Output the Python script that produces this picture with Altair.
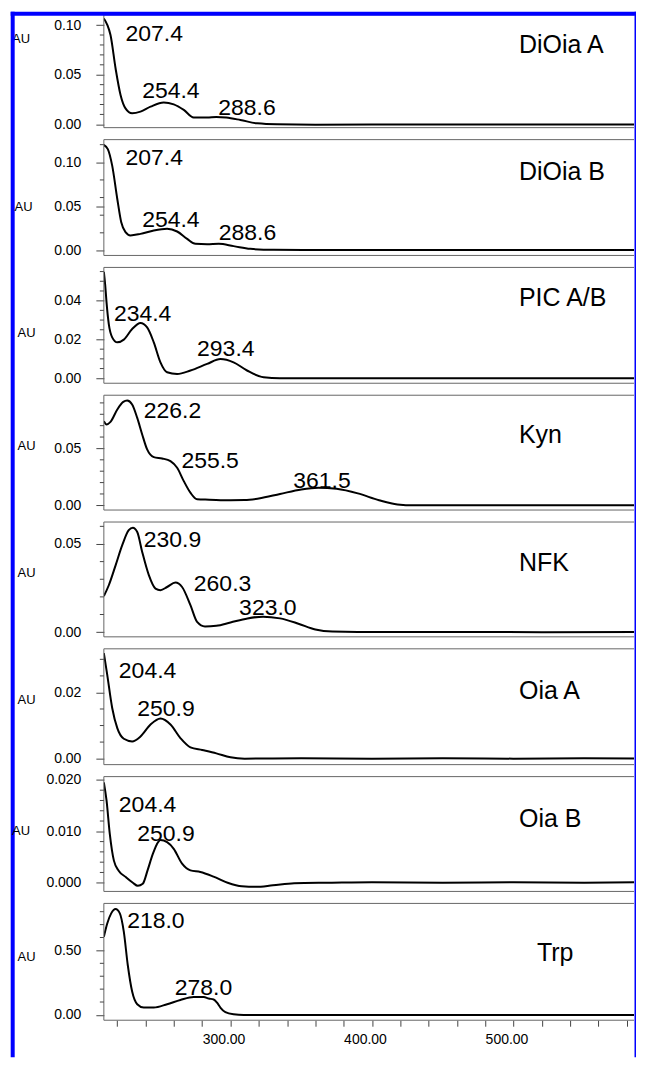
import altair as alt
import pandas as pd

# ---------------- data (wavelength nm, absorbance AU) -------------
dioia_a_nm = [210.5, 213.0, 215.2, 218.8, 222.3, 225.8, 230.5, 236.4, 243.5, 252.8, 259.9, 267.0,
              274.0, 283.5, 290.0, 297.0, 307.0, 318.8, 332.9, 360, 400, 450, 500, 550, 600]
dioia_a_au = [0.1066, 0.1000, 0.0900, 0.0563, 0.0296, 0.0161, 0.0111, 0.0128, 0.0178, 0.0221, 0.0201, 0.0145,
              0.0070, 0.0068, 0.0074, 0.0068, 0.0044, 0.0010, 0.0000, -0.0003, -0.0002, -0.0002, -0.0001, -0.0002, -0.0001]

dioia_b_nm = [210.5, 213.3, 216.4, 220.0, 222.8, 225.8, 229.3, 236.4, 245.8, 255.2, 262.3, 269.4,
              275.2, 283.5, 291.7, 302.2, 314.0, 330.5, 360, 400, 450, 500, 550, 600]
dioia_b_au = [0.1196, 0.1150, 0.0962, 0.0584, 0.0320, 0.0207, 0.0170, 0.0188, 0.0226, 0.0245, 0.0215, 0.0131,
              0.0075, 0.0071, 0.0075, 0.0049, 0.0018, 0.0007, 0.0006, 0.0005, 0.0006, 0.0005, 0.0006, 0.0005]

pic_nm = [210.5, 211.5, 212.4, 214.0, 216.4, 220.0, 224.6, 230.5, 236.4, 241.1, 245.8, 250.5, 255.2,
          262.3, 271.7, 283.5, 292.9, 302.2, 311.7, 323.4, 335, 380, 450, 520, 600]
pic_au = [0.0549, 0.0477, 0.0391, 0.0279, 0.0211, 0.0185, 0.0199, 0.0254, 0.0285, 0.0262, 0.0185, 0.0082, 0.0031,
          0.0022, 0.0040, 0.0074, 0.0099, 0.0082, 0.0040, 0.0005, 0.0000, 0.0000, 0.0000, 0.0000, 0.0000]

kyn_nm = [210.5, 212.4, 215.2, 220.0, 224.2, 227.0, 230.5, 234.1, 237.6, 241.1, 245.8, 251.7, 257.6,
          262.3, 267.0, 271.7, 276.4, 285, 300, 310, 320, 335, 350, 362, 375, 390, 405, 418, 430,
          470, 520, 560, 600]
kyn_au = [0.0739, 0.0711, 0.0733, 0.0842, 0.0909, 0.0921, 0.0886, 0.0768, 0.0623, 0.0491, 0.0424, 0.0412, 0.0389,
          0.0330, 0.0213, 0.0111, 0.0053, 0.0050, 0.0045, 0.0046, 0.0060, 0.0100, 0.0140, 0.0155, 0.0145, 0.0105,
          0.0045, 0.0008, 0.0000, 0.0001, 0.0000, 0.0001, 0.0000]

nfk_nm = [210.5, 214.0, 218.8, 223.5, 228.1, 231.0, 234.1, 237.6, 242.3, 247.0, 250.5, 255.2, 261.1,
          265.8, 271.7, 276.4, 282, 290, 300, 312, 323, 335, 348, 360, 372, 390, 450, 520, 600]
nfk_au = [0.0204, 0.0266, 0.0379, 0.0493, 0.0578, 0.0592, 0.0568, 0.0455, 0.0323, 0.0247, 0.0238, 0.0256, 0.0281,
          0.0256, 0.0153, 0.0058, 0.0032, 0.0036, 0.0055, 0.0078, 0.0088, 0.0078, 0.0048, 0.0015, 0.0003, 0.0001,
          0.0001, 0.0000, 0.0001]

oia_a_nm = [210.5, 212.9, 216.4, 220.0, 224.6, 230.5, 236.4, 243.5, 250.5, 257.6, 264.6, 271.7, 280,
            290, 300, 310, 350, 400, 450, 500, 550, 600]
oia_a_au = [0.0319, 0.0253, 0.0153, 0.0092, 0.0060, 0.0052, 0.0067, 0.0103, 0.0121, 0.0103, 0.0062, 0.0034, 0.0026,
            0.0016, 0.0004, 0.0000, 0.0001, 0.0000, 0.0001, 0.0000, 0.0001, 0.0000]

oia_b_nm = [210.5, 212.4, 214.7, 217.6, 221.1, 226.0, 231.0, 234.5, 238.0, 241.5, 245.0, 248.0, 250.5, 255.2,
            259.9, 265.8, 271.7, 278.7, 288, 298, 308, 318, 330, 345, 370, 400, 450, 500, 550, 600]
oia_b_au = [0.0195, 0.0160, 0.0095, 0.0043, 0.0023, 0.0011, 0.0000, -0.0006, -0.0002, 0.0025, 0.0055, 0.0075, 0.0083,
            0.0079, 0.0066, 0.0037, 0.0024, 0.0021, 0.0012, 0.0000, -0.0007, -0.0008, -0.0005, -0.0001, 0.0000,
            0.0001, 0.0000, 0.0001, 0.0000, 0.0001]

trp_nm = [210.5, 212.9, 215.7, 218.8, 221.8, 224.6, 227.4, 230.5, 234.1, 238.7, 245.8, 255.2, 264.6,
          274.0, 281.1, 284.6, 288.1, 290.5, 293.0, 296.4, 302.2, 309.3, 350, 400, 450, 500, 550, 600]
trp_au = [0.606, 0.709, 0.787, 0.820, 0.787, 0.645, 0.387, 0.181, 0.083, 0.057, 0.057, 0.083, 0.116,
          0.139, 0.139, 0.127, 0.120, 0.095, 0.055, 0.021, 0.005, 0.000, 0.000, 0.000, 0.000, 0.000, 0.000, 0.000]

panel_names = ["DiOia A", "DiOia B", "PIC A/B", "Kyn", "NFK", "Oia A", "Oia B", "Trp"]

# peak labels: (text, anchor nm, anchor AU) per panel
peak_labels = [
    [("207.4", 225.8, 0.0839), ("254.4", 237.6, 0.0262), ("288.6", 291.4, 0.0095)],
    [("207.4", 225.8, 0.0974), ("254.4", 237.6, 0.0264), ("288.6", 291.7, 0.0113)],
    [("234.4", 217.6, 0.0297), ("293.4", 276.4, 0.0113)],
    [("226.2", 238.7, 0.0768), ("255.5", 265.3, 0.0330), ("361.5", 344.4, 0.0152)],
    [("230.9", 238.7, 0.0483), ("260.3", 274.1, 0.0234), ("323.0", 306.1, 0.0098)],
    [("204.4", 221.1, 0.0243), ("250.9", 234.1, 0.0128)],
    [("204.4", 221.1, 0.01371), ("250.9", 234.1, 0.00821)],
    [("218.0", 227.0, 0.676), ("278.0", 260.6, 0.155)],
]

# y-axis ticks per panel
major_ticks = [[0, 0.05, 0.10], [0, 0.05, 0.10], [0, 0.02, 0.04], [0, 0.05], [0, 0.05],
               [0, 0.02], [0, 0.010, 0.020], [0, 0.50]]
minor_ticks = [
    [0.01, 0.02, 0.03, 0.04, 0.06, 0.07, 0.08, 0.09],
    [0.02, 0.04, 0.06, 0.08, 0.12],
    [0.005, 0.01, 0.015, 0.025, 0.03, 0.035, 0.045, 0.05, 0.055],
    [0.01, 0.02, 0.03, 0.04, 0.06, 0.07, 0.08, 0.09],
    [0.01, 0.02, 0.03, 0.04, 0.06],
    [0.005, 0.01, 0.015, 0.025, 0.03],
    [0.002, 0.004, 0.006, 0.008, 0.012, 0.014, 0.016, 0.018],
    [0.1, 0.2, 0.3, 0.4, 0.6, 0.7, 0.8],
]
tick_formats = [".2f", ".2f", ".2f", ".2f", ".2f", ".2f", ".3f", ".2f"]
x_ticks = list(range(220, 600, 20))

series_nm = [dioia_a_nm, dioia_b_nm, pic_nm, kyn_nm, nfk_nm, oia_a_nm, oia_b_nm, trp_nm]
series_au = [dioia_a_au, dioia_b_au, pic_au, kyn_au, nfk_au, oia_a_au, oia_b_au, trp_au]

# ---------------- layout / style ----------------
FONT = "Liberation Sans"
BLUE = "#0000FF"
FRAME = "#666666"
PLOT_W = 531
X_DOMAIN = [210.5, 585.2]
heights = [113, 116, 116, 115, 115, 116, 115, 117]
y_domains = [[-0.00332, 0.11036], [-0.00566, 0.12571], [-0.00257, 0.05714], [-0.00412, 0.09675],
             [-0.00266, 0.06246], [-0.00181, 0.03318], [-0.00169, 0.02064], [-0.041, 0.8642]]
name_pos = [(503.9, 0.0802), (503.9, 0.0887), (503.9, 0.0412), (503.9, 0.0617),
            (503.9, 0.0392), (503.9, 0.0203), (503.9, 0.01249), (516.6, 0.477)]
au_pos = [(-92.5, 24), (-90, 67), (-87, 65), (-87, 50), (-87, 51), (-87, 51), (-92.5, 54), (-87, 53)]
BAR_END = 1044  # bottom of the blue border, relative to the first panel's top

xscale = alt.Scale(domain=X_DOMAIN, nice=False, zero=False)


def make_panel(i):
    h = heights[i]
    ys = alt.Scale(domain=y_domains[i], nice=False, zero=False)
    if i == 7:
        xaxis = alt.Axis(values=x_ticks, title=None, domain=False, grid=False, tickSize=6,
                         tickColor="#444", labelPadding=6, labelFont=FONT, labelFontSize=14,
                         labelColor="black", labelFlush=False, labelOffset=-7,
                         labelExpr="datum.value % 100 == 0 ? format(datum.value, '.2f') : ''")
    else:
        xaxis = None
    yaxis = alt.Axis(values=major_ticks[i], format=tick_formats[i], domain=False, grid=False,
                     tickSize=8, tickColor="#444", labelPadding=15, labelFont=FONT,
                     labelFontSize=14, labelColor="black",
                     title="AU", titleAngle=0, titleX=au_pos[i][0], titleY=au_pos[i][1],
                     titleAlign="left", titleBaseline="middle", titleFont=FONT,
                     titleFontSize=13, titleFontWeight="normal", titleColor="black")
    X = alt.X("nm:Q", scale=xscale, axis=xaxis)
    Y = alt.Y("au:Q", scale=ys, axis=yaxis)
    one = pd.DataFrame({"a": [0]})

    # panel frame: top, bottom and left edges (right edge is cut off in the original)
    frame_top = alt.Chart(one).mark_rule(color=FRAME, strokeWidth=1).encode(
        x=alt.value(0), x2=alt.value(PLOT_W), y=alt.value(0))
    frame_bottom = alt.Chart(one).mark_rule(color=FRAME, strokeWidth=1).encode(
        x=alt.value(0), x2=alt.value(PLOT_W), y=alt.value(h))
    frame_left = alt.Chart(one).mark_rule(color=FRAME, strokeWidth=1).encode(
        x=alt.value(0), y=alt.value(0), y2=alt.value(h))

    df = pd.DataFrame({"nm": series_nm[i], "au": series_au[i]})
    line = alt.Chart(df).mark_line(color="black", strokeWidth=2, clip=True,
                                   interpolate="monotone").encode(x=X, y=Y)
    minor = alt.Chart(pd.DataFrame({"au": minor_ticks[i]})).mark_rule(
        color="#444", strokeWidth=1).encode(y=Y, x=alt.value(-4), x2=alt.value(0))
    pl = pd.DataFrame(peak_labels[i], columns=["t", "nm", "au"])
    peaks = alt.Chart(pl).mark_text(align="left", baseline="alphabetic", font=FONT,
                                    fontSize=23, color="black").encode(x=X, y=Y, text="t:N")
    nd = pd.DataFrame({"t": [panel_names[i]], "nm": [name_pos[i][0]], "au": [name_pos[i][1]]})
    name = alt.Chart(nd).mark_text(align="left", baseline="middle", font=FONT,
                                   fontSize=25, color="black").encode(x=X, y=Y, text="t:N")
    layers = [line, frame_top, frame_bottom, frame_left, minor, peaks, name]
    if i == 0:
        left_bar = alt.Chart(one).mark_rect(color=BLUE).encode(
            x=alt.value(-93.3), x2=alt.value(-89.3), y=alt.value(-3), y2=alt.value(BAR_END))
        top_bar = alt.Chart(one).mark_rect(color=BLUE).encode(
            x=alt.value(-93.3), x2=alt.value(PLOT_W + 2), y=alt.value(-3), y2=alt.value(1))
        right_line = alt.Chart(one).mark_rect(color=BLUE).encode(
            x=alt.value(PLOT_W + 0.5), x2=alt.value(PLOT_W + 2), y=alt.value(-3), y2=alt.value(BAR_END))
        layers += [left_bar, top_bar, right_line]
    return alt.layer(*layers).properties(
        width=PLOT_W, height=h, view=alt.ViewBackground(stroke="transparent"))


panels = [make_panel(i) for i in range(8)]

chart = alt.vconcat(*panels, spacing=12, bounds="flush").resolve_scale(
    x="shared", y="independent"
).properties(
    padding={"left": 2, "top": 2, "right": 0, "bottom": 0}
).configure_view(stroke="transparent").configure(background="white")

chart.save("out.html", embed_options={"renderer": "svg", "actions": False})
